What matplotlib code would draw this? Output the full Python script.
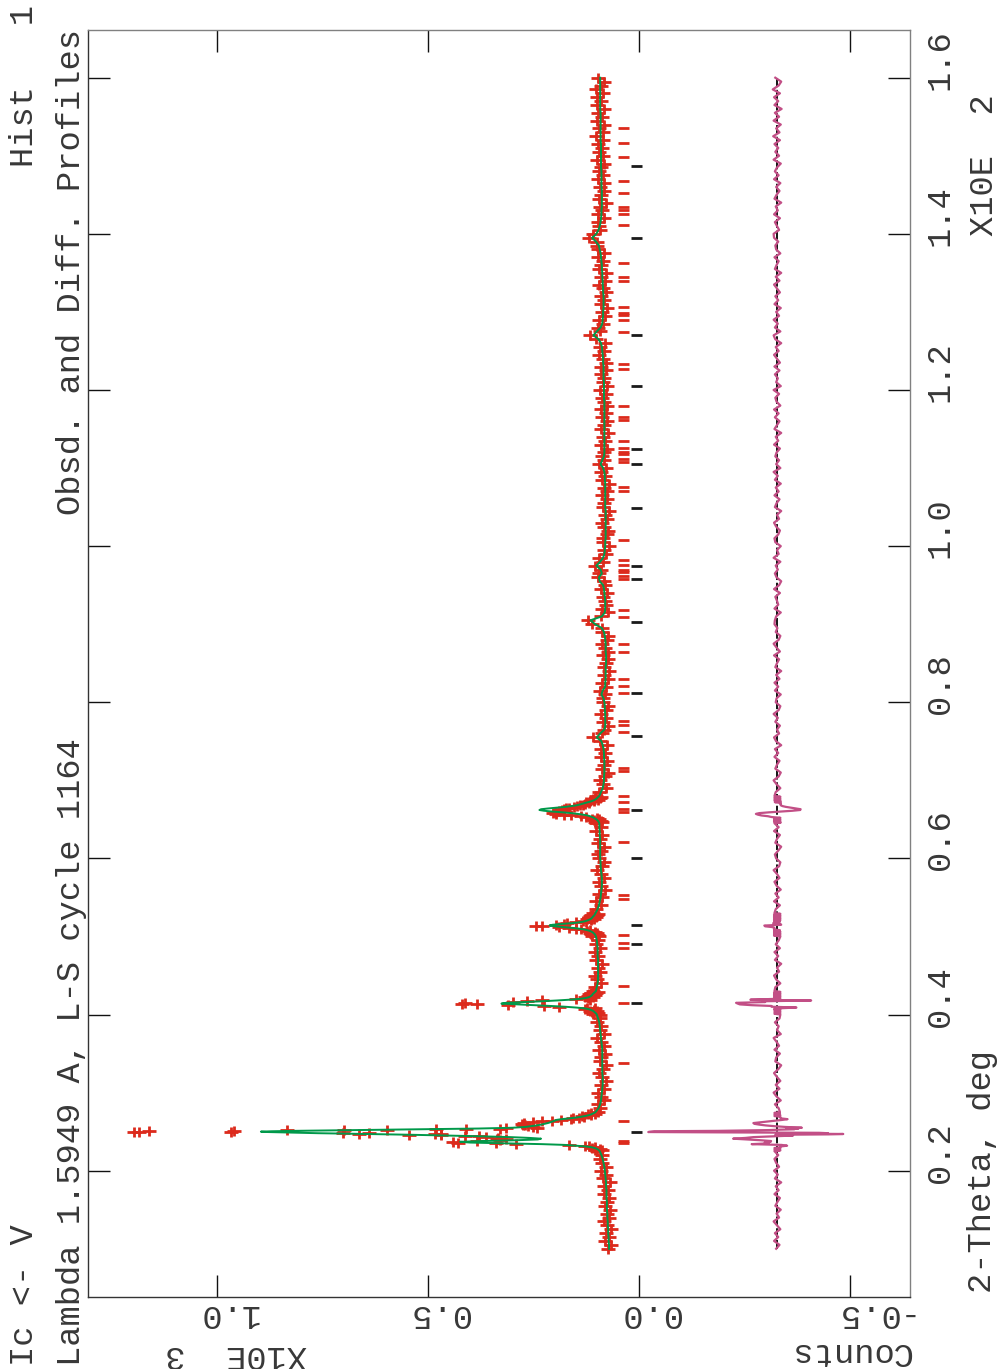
import numpy as np
import matplotlib
matplotlib.use("Agg")
import matplotlib.pyplot as plt
from matplotlib.path import Path
from matplotlib.transforms import blended_transform_factory, offset_copy

# scan layout: (first 2-theta, last 2-theta, step), degrees
scan_segments = [
    (10.0, 22.0, 0.5),
    (22.5, 24.4, 0.1),
    (24.5, 25.5, 0.05),
    (25.6, 27.5, 0.1),
    (28.0, 39.5, 0.5),
    (40.0, 43.0, 0.1),
    (43.5, 49.5, 0.5),
    (50.0, 53.0, 0.1),
    (53.5, 64.0, 0.5),
    (64.5, 68.0, 0.1),
    (68.5, 160.0, 0.5),
]

# observed counts, one value per scan point
obs = [
    74, 66, 80, 70, 79, 66, 75, 83, 71, 77, 68, 81, 76, 71, 84, 74, 82, 69, 85, 79, 89, 78, 87, 93, 87,
    100, 88, 104, 93, 112, 105, 118, 127, 165, 291, 340, 430, 440, 385, 330, 314, 337, 335, 362, 380,
    413, 470, 545, 469, 484, 663, 640, 701, 967, 1186, 1196, 1162, 960, 835, 700, 597, 480, 409, 330, 314, 242,
    250, 262, 270, 275, 278, 273, 250, 230, 205, 185, 160, 157, 143, 131, 135, 113, 121, 104, 113, 97,
    93, 98, 82, 91, 97, 82, 90, 79, 87, 95, 85, 78, 92, 90, 81, 94, 84, 91, 99, 83, 93, 90, 100, 92,
    93, 108, 96, 112, 100, 117, 107, 128, 124, 105, 189, 224, 311, 384, 420, 413, 299, 266, 115, 229,
    150, 121, 128, 109, 121, 104, 118, 101, 114, 97, 109,
    105, 91, 100, 105, 93, 98, 88, 103, 96, 105, 92, 103, 97,
    95, 111, 97, 113, 100, 117, 105, 124, 116, 138, 150, 165, 190, 229, 243, 196, 178, 170, 150, 126,
    133, 113, 124, 106, 119, 103, 116, 99, 113, 97, 110,
    102, 89, 101, 88, 95, 81, 90, 95, 83, 90, 99, 87, 84, 95, 98, 90, 83, 97, 93, 87, 101, 91,
    101, 87, 104, 90, 107, 94, 112, 100, 125, 138, 160, 178, 196, 203, 200, 196, 190, 182, 177, 172,
    165, 155, 148, 140, 132, 128, 119, 126, 106, 116, 98, 109, 93, 105, 89, 101,
    94, 79, 86, 92, 80, 74, 87, 83, 77, 90,
    81, 90, 77, 92, 108, 88, 83, 74, 85, 79,
    89, 78, 74, 86, 86, 81, 92, 78, 87, 74,
    82, 70, 84, 79, 74, 86, 73, 81, 88, 77,
    74, 87, 88, 111, 121, 91, 73, 87, 78, 81,
    86, 76, 91, 81, 84, 97, 94, 90, 105, 85,
    94, 79, 82, 72, 85, 86, 77, 73, 82, 87,
    75, 80, 70, 86, 82, 75, 87, 77, 84, 72,
    87, 80, 91, 78, 94, 83, 88, 84, 76, 90,
    80, 86, 73, 89, 83, 77, 88, 79, 90, 75,
    84, 88, 79, 92, 75, 86, 83, 90, 79, 91,
    79, 86, 94, 84, 92, 81, 101, 117, 93, 97,
    86, 95, 81, 88, 76, 91, 82, 89, 79, 86,
    94, 81, 91, 78, 94, 90, 86, 97, 84, 96,
    100, 100, 119, 110, 92, 94, 97, 84, 97, 88,
    92, 79, 95, 90, 83, 92, 82, 97, 86, 95,
    91, 82, 99, 86, 95, 88, 97, 85, 101, 86,
    94, 83, 100, 87, 97, 82, 99, 90, 100, 86,
    103, 89, 83, 97,
]

# calculated profile, same scan points
calc = [
    71, 71, 72, 72, 73, 73, 74, 74, 75, 75, 76, 76, 76, 77, 77, 77, 78, 78, 79, 80, 81, 82, 84, 86, 89,
    93, 95, 97, 100, 105, 112, 125, 150, 175, 230, 320, 400, 424, 370, 290, 240, 232, 260, 305, 370,
    450, 495, 540, 590, 640, 700, 760, 800, 850, 880, 896, 870, 820, 750, 680, 600, 520, 450, 380, 335, 300,
    270, 255, 242, 232, 224, 216, 210, 205, 200, 196, 184, 165, 150, 138, 128, 120, 114, 110, 106, 103,
    96, 92, 90, 89, 88, 87, 86, 86, 86, 87, 87, 87, 87, 87, 87, 87, 88, 89, 90, 91, 92, 93, 94, 97,
    100, 101, 103, 105, 107, 110, 114, 120, 130, 150, 175, 210, 250, 295, 326, 315, 270, 230, 195, 165,
    141, 128, 120, 116, 113, 111, 110, 108, 106, 104, 102,
    100, 98, 97, 97, 97, 97, 97, 97, 98, 98, 98, 99, 100,
    102, 103, 104, 105, 107, 109, 112, 116, 122, 130, 142, 158, 178, 200, 212, 205, 185, 160, 143, 132,
    125, 120, 116, 113, 111, 110, 108, 106, 105, 104, 103,
    98, 95, 93, 91, 90, 89, 88, 88, 88, 89, 90, 91, 91, 92, 92, 92, 92, 92, 92, 93, 93, 94,
    94, 95, 96, 97, 99, 101, 104, 107, 111, 116, 122, 132, 145, 160, 180, 205, 225, 236, 232, 215,
    195, 175, 160, 148, 140, 134, 127, 120, 114, 109, 105, 102, 100, 98, 96, 94,
    90, 86, 84, 83, 83, 82, 82, 82, 82, 83,
    83, 84, 86, 89, 100, 92, 82, 80, 80, 80,
    80, 81, 81, 82, 84, 89, 86, 80, 80, 79,
    79, 79, 79, 78, 78, 78, 79, 79, 79, 80,
    81, 83, 88, 104, 115, 88, 81, 80, 80, 80,
    81, 82, 83, 85, 93, 95, 88, 91, 101, 92,
    85, 82, 81, 80, 80, 79, 79, 79, 79, 79,
    79, 79, 79, 80, 80, 80, 80, 80, 80, 80,
    81, 81, 82, 85, 91, 87, 83, 82, 82, 82,
    82, 82, 82, 82, 82, 82, 82, 82, 82, 82,
    82, 83, 83, 83, 83, 83, 84, 84, 84, 84,
    85, 85, 86, 87, 88, 90, 96, 108, 100, 91,
    87, 86, 85, 85, 84, 84, 84, 84, 85, 85,
    86, 86, 87, 87, 88, 88, 89, 90, 91, 93,
    95, 102, 111, 101, 96, 93, 91, 90, 89, 89,
    88, 88, 88, 88, 88, 89, 89, 89, 89, 89,
    90, 90, 90, 90, 90, 90, 90, 91, 91, 91,
    91, 91, 91, 91, 91, 92, 92, 92, 92, 92,
    92, 92, 92, 92,
]

# reflection positions (2-theta, deg) for the two phases
refl_phase1 = [153.59, 151.67, 149.87, 146.79, 145.26, 143.50, 143.08, 142.60, 141.19,
               136.32, 134.49, 134.01, 130.68, 129.83, 129.62, 129.01, 127.47, 123.37,
               122.73, 117.99, 116.58, 116.19, 113.50, 112.56, 112.01, 111.79, 111.19,
               110.81, 107.60, 107.09, 100.81, 98.21, 97.56, 96.92, 96.71, 96.19, 95.77,
               91.83, 90.94, 87.44, 86.41, 82.99, 82.05, 81.19, 77.56, 77.09, 76.15,
               71.58, 71.19, 67.99, 67.18, 66.32, 65.94, 62.09, 55.26, 54.74, 50.13,
               49.10, 48.50, 43.72, 41.54, 33.85, 26.41, 23.85, 23.59]
refl_phase2 = [148.72, 139.53, 127.09, 120.55, 112.47, 110.55, 104.91, 97.47, 95.77,
               90.29, 81.19, 75.68, 66.22, 60.04, 51.41, 49.01, 41.45, 24.91]

diff_offset = -328  # counts
count_ticks = [1.0, 0.5, 0.0, -0.5]
tth_ticks = [0.2, 0.4, 0.6, 0.8, 1.0, 1.2, 1.4, 1.6]

tth = np.concatenate([np.linspace(a, b, int(round((b - a) / s)) + 1)
                      for a, b, s in scan_segments])
obs = np.array(obs, dtype=float)
calc = np.array(calc, dtype=float)
diff = obs - calc

plt.rcParams['font.family'] = ['Liberation Mono', 'DejaVu Sans Mono']
TXT = '#383838'
FS = 24.3

fig = plt.figure(figsize=(10, 13.69), dpi=100)
ax = fig.add_axes([0.088, 1 - 1297 / 1369, 0.822, (1297 - 30) / 1369])

plus = Path([(-1, 0), (1, 0), (0, -0.75), (0, 0.75)],
            [Path.MOVETO, Path.LINETO, Path.MOVETO, Path.LINETO])

y = tth / 100
ax.plot(obs / 1000, y, ls='none', marker=plus, ms=10.5, mew=2.0,
        color='#dc2a1c', zorder=2)
ax.plot(calc / 1000, y, color='#00994a', lw=1.4, zorder=3)
ax.vlines(diff_offset / 1000, y.min(), y.max(), colors='black', lw=1.3,
          linestyles=(0, (5, 1.5)), zorder=3)
ax.plot((diff + diff_offset) / 1000, y, color='#c24f86', lw=1.6, zorder=4)

ax.hlines(np.array(refl_phase1) / 100, 0.024, 0.050, colors='#dc2a1c', lw=2)
ax.hlines(np.array(refl_phase2) / 100, -0.007, 0.019, colors='#1a1a1a', lw=2)

ax.set_xlim(1.3057, -0.6422)
ax.set_ylim(0.0382, 1.6611)
ax.set_xticks(count_ticks)
ax.set_yticks(tth_ticks)
ax.tick_params(axis='both', direction='in', length=15.5, width=1.0, color='#111111',
               top=True, bottom=True, left=True, right=True,
               labelbottom=False, labelleft=False, labeltop=False, labelright=False)
for side in ['left', 'bottom']:
    ax.spines[side].set_color('#333333')
for side in ['right', 'top']:
    ax.spines[side].set_color('#808080')
for side in ax.spines:
    ax.spines[side].set_linewidth(1.0)

# tick labels, drawn rotated like the GSAS plot
tr_right = offset_copy(blended_transform_factory(ax.transAxes, ax.transData),
                       fig=fig, x=39, y=-12, units='dots')
for t in tth_ticks:
    ax.text(1.0, t, '%.1f' % t, transform=tr_right, rotation=90,
            rotation_mode='anchor', ha='left', va='baseline', fontsize=FS, color=TXT)

tr_bottom = offset_copy(blended_transform_factory(ax.transData, ax.transAxes),
                        fig=fig, x=-20, y=-8, units='dots')
for c in count_ticks:
    ax.text(c, 0.0, '%.1f' % c, transform=tr_bottom, rotation=180,
            rotation_mode='anchor', ha='right', va='baseline', fontsize=FS, color=TXT)


def px(xp, yp):
    return xp / 1000, 1 - yp / 1369


labels = [
    ('Ic <- V', (33, 1366), 90, 'left'),
    ('Lambda 1.5949 A, L-S cycle 1164', (80, 1366), 90, 'left'),
    ('Hist   1', (33, 5), 90, 'right'),
    ('Obsd. and Diff. Profiles', (80, 29), 90, 'right'),
    ('2-Theta, deg', (991, 1293), 90, 'left'),
    ('X10E  2', (993, 236), 90, 'left'),
    ('Counts', (911, 1343), 180, 'left'),
    ('X10E  3', (307, 1346), 180, 'left'),
]
for s, (xp, yp), rot, ha in labels:
    fx, fy = px(xp, yp)
    fig.text(fx, fy, s, rotation=rot, rotation_mode='anchor', ha=ha, va='baseline',
             fontsize=FS, color=TXT)

fig.savefig('out.png', dpi=100)
